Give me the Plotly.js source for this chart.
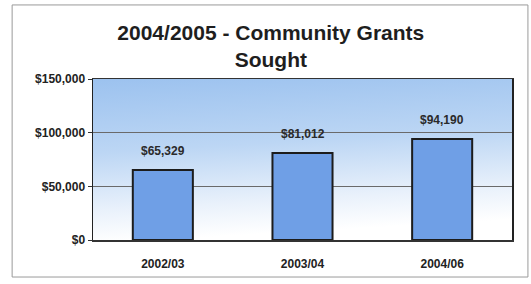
<!DOCTYPE html>
<html>
<head>
<meta charset="utf-8">
<script src="https://cdn.plot.ly/plotly-3.0.1.min.js"></script>
<style>html,body{margin:0;padding:0;background:#fff;}#chart{width:531px;height:284px;}</style>
</head>
<body>
<div id="chart"></div>
<script>
const categories = ["2002/03", "2003/04", "2004/06"];
const values = [65329, 81012, 94190];
const valueLabels = ["$65,329", "$81,012", "$94,190"];
const titleText = "2004/2005 - Community Grants<br>Sought";

const grad = 'data:image/svg+xml;utf8,' + encodeURIComponent(
  '<svg xmlns="http://www.w3.org/2000/svg" width="100" height="100" preserveAspectRatio="none">' +
  '<defs><linearGradient id="g" x1="0" y1="0" x2="0.15" y2="1">' +
  '<stop offset="0" stop-color="#9cc2ef"/>' +
  '<stop offset="0.45" stop-color="#bcd6f4"/>' +
  '<stop offset="0.8" stop-color="#e9f1fb"/>' +
  '<stop offset="1" stop-color="#ffffff"/>' +
  '</linearGradient></defs><rect width="100" height="100" fill="url(#g)"/></svg>');

const FONT = 'Liberation Sans, Arial, sans-serif';

const trace = {
  type: 'bar',
  x: categories,
  y: values,
  marker: {color: '#6f9fe6', line: {color: '#1c1c1c', width: 2}},
  width: 0.43,
  hoverinfo: 'none'
};

const annotations = categories.map((c, i) => ({
  x: c, y: values[i], xref: 'x', yref: 'y',
  text: valueLabels[i], showarrow: false,
  yanchor: 'bottom', yshift: 10,
  font: {family: FONT, size: 12, color: '#2a2a2a', weight: 'bold'}
}));

const layout = {
  width: 531, height: 284,
  margin: {l: 93, r: 19, t: 79, b: 44},
  paper_bgcolor: '#ffffff',
  plot_bgcolor: 'rgba(0,0,0,0)',
  showlegend: false,
  font: {family: FONT, color: '#222'},
  title: {
    text: titleText,
    font: {family: FONT, size: 21, color: '#1e1e1e', weight: 'bold'},
    xref: 'container', x: 0.51, xanchor: 'center',
    yref: 'container', y: 0.86, yanchor: 'middle'
  },
  xaxis: {
    type: 'category',
    showline: true, linecolor: '#333', linewidth: 1.5, mirror: true,
    ticks: '', showgrid: false,
    ticklabelstandoff: 12,
    tickfont: {size: 12, color: '#222', weight: 'bold'}
  },
  yaxis: {
    range: [0, 150000], dtick: 50000, tickprefix: '$', tickformat: ',d',
    showline: true, linecolor: '#222', linewidth: 1.5, mirror: true,
    ticks: 'outside', ticklen: 4, tickcolor: '#333',
    gridcolor: '#6a6a6a', gridwidth: 1,
    zeroline: false,
    tickfont: {size: 12, color: '#222', weight: 'bold'}
  },
  annotations: annotations,
  images: [{
    source: grad, xref: 'paper', yref: 'paper', x: 0, y: 1, sizex: 1, sizey: 1,
    xanchor: 'left', yanchor: 'top', sizing: 'stretch', layer: 'below'
  }],
  shapes: [{
    type: 'rect', xref: 'paper', yref: 'paper',
    x0: -0.193, x1: 1.038, y0: -0.23, y1: 1.46,
    line: {color: '#9a9a9a', width: 1}, fillcolor: 'rgba(0,0,0,0)'
  }]
};

Plotly.newPlot('chart', [trace], layout, {displayModeBar: false, staticPlot: true});
</script>
</body>
</html>
